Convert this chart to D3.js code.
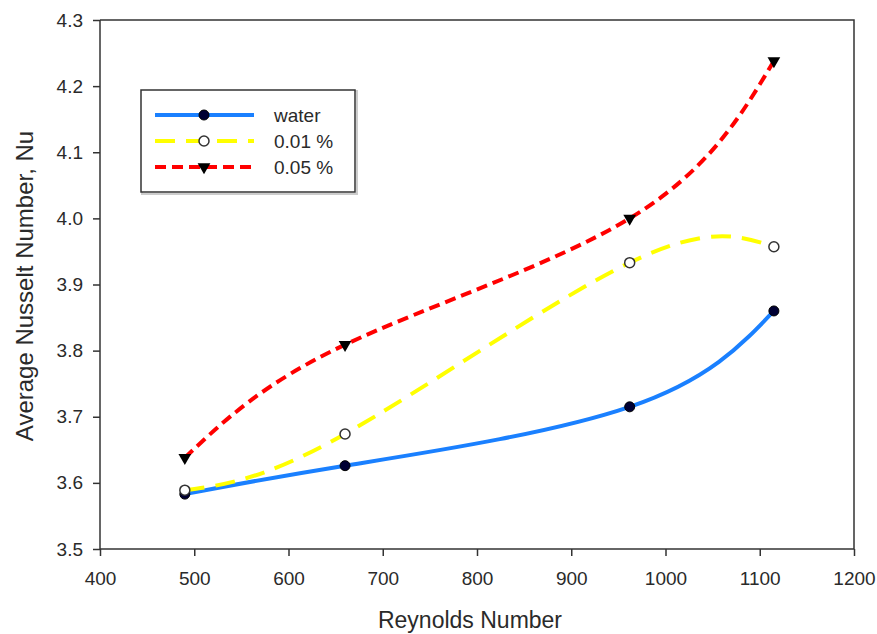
<!DOCTYPE html>
<html><head><meta charset="utf-8">
<script src="https://cdn.jsdelivr.net/npm/d3@7"></script>
<style>body{margin:0;background:#fff}svg{display:block}text{font-family:"Liberation Sans",Arial,sans-serif;fill:#2a2a2a}</style>
</head><body>
<svg id="c" width="877" height="634"></svg>
<script>
const reynolds = [490, 660, 962, 1115];
const water = [3.583, 3.626, 3.715, 3.860];
const nano001 = [3.589, 3.674, 3.933, 3.957];
const nano005 = [3.638, 3.809, 4.000, 4.238];
const seriesNames = ["water", "0.01 %", "0.05 %"];
const xTicks = [400, 500, 600, 700, 800, 900, 1000, 1100, 1200];
const yTicks = [3.5, 3.6, 3.7, 3.8, 3.9, 4.0, 4.1, 4.2, 4.3];

const svg = d3.select("#c");
const m = {l: 100, t: 20, r: 23, b: 85};
const W = 877 - m.l - m.r, H = 634 - m.t - m.b;
const x = d3.scaleLinear().domain([400, 1200]).range([0, W]);
const y = d3.scaleLinear().domain([3.5, 4.3]).range([H, 0]);
const g = svg.append("g").attr("transform", `translate(${m.l},${m.t})`);

// frame
g.append("path").attr("d", `M0,0H${W}V${H}`).attr("fill", "none").attr("stroke", "#333").attr("stroke-width", 1.5);

const xa = g.append("g").attr("transform", `translate(0,${H})`)
  .call(d3.axisBottom(x).tickValues(xTicks).tickFormat(d3.format("d")).tickSize(7).tickPadding(16));
const ya = g.append("g")
  .call(d3.axisLeft(y).tickValues(yTicks).tickFormat(d3.format(".1f")).tickSize(7).tickPadding(10));
[xa, ya].forEach(a => {
  a.selectAll("path,line").attr("stroke", "#333").attr("stroke-width", 1.5);
  a.selectAll("text").style("font-size", "19px").attr("fill", "#2a2a2a");
  a.select(".domain").attr("d", a === xa ? `M0,0H${W}` : `M0,${H}V0`);
});

const series = [
  {name: seriesNames[0], vals: water, color: "#1a80ff", dash: null, marker: "dot"},
  {name: seriesNames[1], vals: nano001, color: "#ffff00", dash: "20,11", marker: "open"},
  {name: seriesNames[2], vals: nano005, color: "#ff0000", dash: "11,6", marker: "tri"}
];
const line = d3.line().x(d => x(d[0])).y(d => y(d[1])).curve(d3.curveNatural);

function marker(sel, type, cx, cy) {
  if (type === "dot") sel.append("circle").attr("cx", cx).attr("cy", cy).attr("r", 5).attr("fill", "#000033").attr("stroke", "#000");
  else if (type === "open") sel.append("circle").attr("cx", cx).attr("cy", cy).attr("r", 5).attr("fill", "#fff").attr("stroke", "#333").attr("stroke-width", 1.5);
  else sel.append("path").attr("d", d3.symbol(d3.symbolTriangle, 70)()).attr("transform", `translate(${cx},${cy}) rotate(180)`).attr("fill", "#000");
}

series.forEach(s => {
  const pts = reynolds.map((r, i) => [r, s.vals[i]]);
  g.append("path").attr("d", line(pts)).attr("fill", "none").attr("stroke", s.color)
    .attr("stroke-width", 4).attr("stroke-dasharray", s.dash);
});
series.forEach(s => {
  reynolds.forEach((r, i) => marker(g, s.marker, x(r), y(s.vals[i])));
});

// legend
const lg = svg.append("g");
lg.append("rect").attr("x", 142).attr("y", 91).attr("width", 215).attr("height", 103).attr("fill", "none").attr("stroke", "#ccc").attr("stroke-width", 2);
lg.append("rect").attr("x", 141).attr("y", 90).attr("width", 214).attr("height", 102).attr("fill", "#fff").attr("stroke", "#333").attr("stroke-width", 1.5);
const rowsY = [115, 141, 167];
series.forEach((s, i) => {
  const yy = rowsY[i];
  lg.append("line").attr("x1", 155).attr("x2", 254).attr("y1", yy).attr("y2", yy)
    .attr("stroke", s.color).attr("stroke-width", 4).attr("stroke-dasharray", s.dash);
  marker(lg, s.marker, 204, yy);
  lg.append("text").attr("x", 274).attr("y", yy + 7).style("font-size", "19px").text(s.name);
});

svg.append("text").attr("x", 470).attr("y", 628).attr("text-anchor", "middle").style("font-size", "23px").text("Reynolds Number");
svg.append("text").attr("transform", `translate(33,286) rotate(-90)`).attr("text-anchor", "middle").style("font-size", "24px").text("Average Nusselt Number, Nu");
</script>
</body></html>
